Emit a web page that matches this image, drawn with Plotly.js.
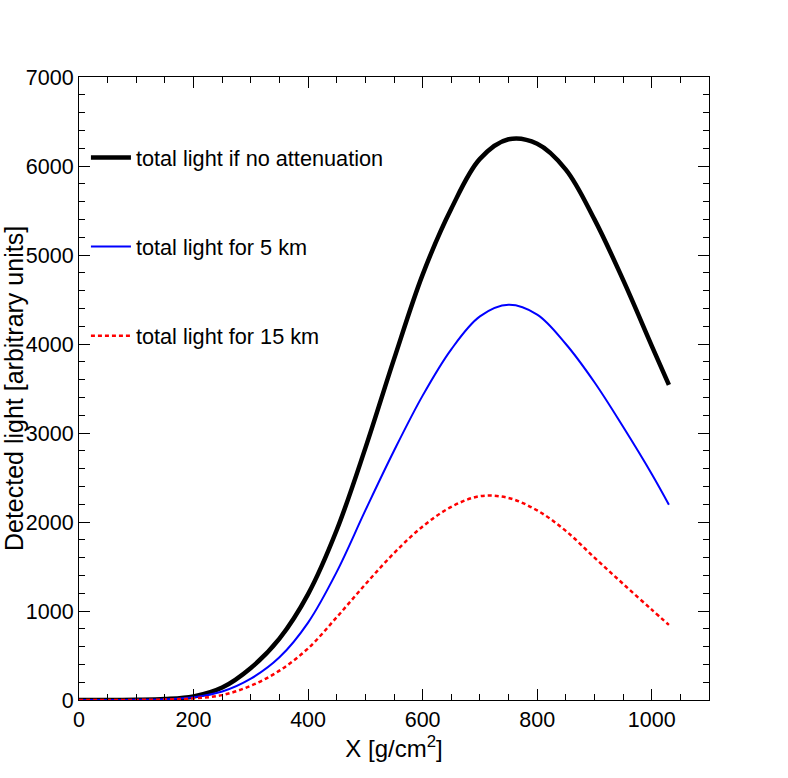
<!DOCTYPE html>
<html>
<head>
<meta charset="utf-8">
<script src="https://cdn.plot.ly/plotly-3.0.1.min.js"></script>
<style>
  html, body { margin: 0; padding: 0; background: #fff; }
  #plot { width: 788px; height: 778px; }
</style>
</head>
<body>
<div id="plot"></div>
<script>
// depth values [g/cm2]
const depth = [0, 50, 100, 150, 200, 250, 300, 350, 400, 450, 500, 550,
  600, 650, 700, 750, 800, 850, 900, 950, 1000, 1030];

// detected light
const lightNoAtt = [0, 0, 2, 10, 40, 140, 360, 690, 1190, 1910, 2830, 3830,
  4780, 5520, 6080, 6300, 6250, 5960, 5400, 4720, 3980, 3540];
const light5km = [0, 0, 2, 8, 30, 95, 240, 480, 870, 1440, 2130, 2800,
  3420, 3940, 4310, 4440, 4330, 4000, 3570, 3070, 2540, 2195];
const light15km = [0, 0, 1, 5, 18, 55, 160, 330, 580, 930, 1300, 1650,
  1950, 2170, 2290, 2270, 2130, 1900, 1600, 1305, 1015, 844];

const names = ["total light if no attenuation", "total light for 5 km", "total light for 15 km"];

const fam = "Liberation Sans, Arial, sans-serif";
const font = { family: fam, size: 21.5, color: "#000" };

const traces = [
  {
    x: depth, y: lightNoAtt, name: names[0], legendgroup: "a",
    type: "scatter", mode: "lines",
    line: { color: "#000000", width: 4.5, shape: "spline", smoothing: 1 }
  },
  {
    x: depth, y: light5km, name: names[1], legendgroup: "b",
    type: "scatter", mode: "lines",
    line: { color: "#0000ff", width: 2, shape: "spline", smoothing: 1 }
  },
  {
    x: depth, y: light15km, name: names[2], legendgroup: "c",
    type: "scatter", mode: "lines",
    line: { color: "#ff0000", width: 2.5, dash: "4px,3px", shape: "spline", smoothing: 1 }
  }
];

const axisCommon = {
  showline: true, linecolor: "#000", linewidth: 1, mirror: "ticks",
  ticks: "inside", ticklen: 11, tickcolor: "#000", tickwidth: 1,
  showgrid: false, zeroline: false, tickfont: font
};

const layout = {
  width: 788, height: 778,
  margin: { l: 79, r: 79, t: 77, b: 78 },
  paper_bgcolor: "#fff", plot_bgcolor: "#fff",
  font: font,
  showlegend: true,
  legend: {
    x: 0.011, xanchor: "left", y: 0.904, yanchor: "top",
    bgcolor: "rgba(0,0,0,0)", borderwidth: 0,
    traceorder: "grouped", tracegroupgap: 58, itemwidth: 40,
    font: { family: fam, size: 21.7, color: "#000" }
  },
  xaxis: Object.assign({}, axisCommon, {
    range: [0, 1100], dtick: 200, tick0: 0,
    minor: { dtick: 50, ticks: "inside", ticklen: 6, tickcolor: "#000" },
    title: { text: "X [g/cm<sup>2</sup>]", font: { family: fam, size: 24 }, standoff: 8 }
  }),
  yaxis: Object.assign({}, axisCommon, {
    range: [0, 7000], dtick: 1000, tick0: 0,
    minor: { dtick: 200, ticks: "inside", ticklen: 6, tickcolor: "#000" },
    title: { text: "Detected light [arbitrary units]", font: { family: fam, size: 25 }, standoff: 6 }
  })
};

Plotly.newPlot("plot", traces, layout, { displayModeBar: false, staticPlot: true });
</script>
</body>
</html>
